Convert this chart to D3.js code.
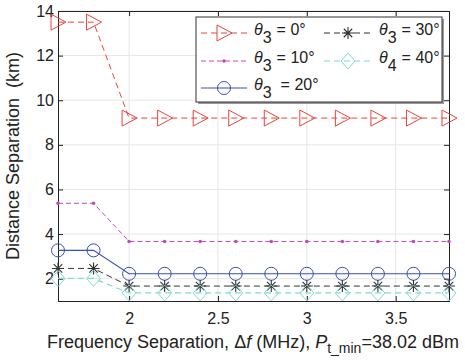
<!DOCTYPE html>
<html>
<head>
<meta charset="utf-8">
<script src="https://cdn.jsdelivr.net/npm/d3@7"></script>
<style>
  body { margin: 0; background: #fff; }
  text { font-family: "Liberation Sans", Arial, sans-serif; white-space: pre; }
</style>
</head>
<body>
<div id="chart"></div>
<script>
// data
const freq = [1.6, 1.8, 2.0, 2.2, 2.4, 2.6, 2.8, 3.0, 3.2, 3.4, 3.6, 3.8];
const theta0 = [13.5, 13.5, 9.2, 9.2, 9.2, 9.2, 9.2, 9.2, 9.2, 9.2, 9.2, 9.2];
const theta10 = [5.38, 5.38, 3.67, 3.67, 3.67, 3.67, 3.67, 3.67, 3.67, 3.67, 3.67, 3.67];
const theta20 = [3.27, 3.27, 2.22, 2.22, 2.22, 2.22, 2.22, 2.22, 2.22, 2.22, 2.22, 2.22];
const theta30 = [2.46, 2.46, 1.67, 1.67, 1.67, 1.67, 1.67, 1.67, 1.67, 1.67, 1.67, 1.67];
const theta40 = [2.01, 2.01, 1.36, 1.36, 1.36, 1.36, 1.36, 1.36, 1.36, 1.36, 1.36, 1.36];
const xTicks = [2, 2.5, 3, 3.5];
const yTicks = [2, 4, 6, 8, 10, 12, 14];

const series = [
  { sub: "3", deg: "0°", vals: theta0, color: "#e8443a", dash: "6,4", marker: "tri", width: 1 },
  { sub: "3", deg: "10°", vals: theta10, color: "#c249c0", dash: "5,3", marker: "dot", width: 1 },
  { sub: "3", deg: "20°", vals: theta20, color: "#3a4fb2", dash: null, marker: "circle", width: 1.1 },
  { sub: "3", deg: "30°", vals: theta30, color: "#333333", dash: "6,4", marker: "star", width: 1 },
  { sub: "4", deg: "40°", vals: theta40, color: "#7fdcd2", dash: "6,4", marker: "diamond", width: 1.2 }
];

const W = 465, H = 361;
const m = { left: 58, right: 16, top: 11, bottom: 60 };

const svg = d3.select("#chart").append("svg")
  .attr("width", W).attr("height", H);

const x = d3.scaleLinear().domain([1.6, 3.8]).range([m.left, W - m.right]);
const y = d3.scaleLinear().domain([1, 14]).range([H - m.bottom, m.top]);

// grid
const grid = svg.append("g").attr("stroke", "#e6e6e6").attr("stroke-width", 1);
xTicks.forEach(t => grid.append("line")
  .attr("x1", x(t)).attr("x2", x(t)).attr("y1", y(1)).attr("y2", y(14)));
yTicks.forEach(t => grid.append("line")
  .attr("x1", x(1.6)).attr("x2", x(3.8)).attr("y1", y(t)).attr("y2", y(t)));

// axes, ticks pointing inward (MATLAB style)
const axFont = "16px";
svg.append("g").attr("transform", "translate(0," + y(1) + ")")
  .call(d3.axisBottom(x).tickValues(xTicks).tickSize(-5).tickPadding(12).tickFormat(d3.format("")))
  .call(g => g.selectAll("text").attr("font-size", axFont).attr("fill", "#222"));
svg.append("g").attr("transform", "translate(0," + y(14) + ")")
  .call(d3.axisTop(x).tickValues(xTicks).tickSize(-5).tickFormat(""));
svg.append("g").attr("transform", "translate(" + x(1.6) + ",0)")
  .call(d3.axisLeft(y).tickValues(yTicks).tickSize(-5).tickPadding(4))
  .call(g => g.selectAll("text").attr("font-size", axFont).attr("fill", "#222"));
svg.append("g").attr("transform", "translate(" + x(3.8) + ",0)")
  .call(d3.axisRight(y).tickValues(yTicks).tickSize(-5).tickFormat(""));
svg.selectAll(".domain").attr("stroke", "#222");
svg.selectAll(".tick line").attr("stroke", "#222");

// markers
function drawMarker(g, type, cx, cy, color) {
  if (type === "tri") {
    g.append("path").attr("d", `M${cx - 7},${cy - 8}L${cx + 8},${cy}L${cx - 7},${cy + 8}Z`)
      .attr("fill", "none").attr("stroke", color).attr("stroke-width", 1);
  } else if (type === "dot") {
    g.append("circle").attr("cx", cx).attr("cy", cy).attr("r", 1.8).attr("fill", color);
  } else if (type === "circle") {
    g.append("circle").attr("cx", cx).attr("cy", cy).attr("r", 6.5)
      .attr("fill", "none").attr("stroke", color).attr("stroke-width", 1);
  } else if (type === "star") {
    const r = 6;
    const d = [0, 45, 90, 135].map(a => {
      const t = a * Math.PI / 180;
      return `M${cx - r * Math.cos(t)},${cy - r * Math.sin(t)}L${cx + r * Math.cos(t)},${cy + r * Math.sin(t)}`;
    }).join("");
    g.append("path").attr("d", d).attr("stroke", color).attr("stroke-width", 1.1);
  } else if (type === "diamond") {
    g.append("path").attr("d", `M${cx},${cy - 8}L${cx + 7},${cy}L${cx},${cy + 8}L${cx - 7},${cy}Z`)
      .attr("fill", "none").attr("stroke", color).attr("stroke-width", 1);
  }
}

const line = d3.line().x(d => x(d[0])).y(d => y(d[1]));
const plot = svg.append("g");
series.forEach(s => {
  const pts = freq.map((f, i) => [f, s.vals[i]]);
  plot.append("path").datum(pts).attr("d", line)
    .attr("fill", "none").attr("stroke", s.color).attr("stroke-width", s.width)
    .attr("stroke-dasharray", s.dash);
  pts.forEach(p => drawMarker(plot, s.marker, x(p[0]), y(p[1]), s.color));
});

// legend
const lg = svg.append("g");
const lx = 196, ly = 17, lw = 246, lh = 85;
lg.append("rect").attr("x", lx + 2).attr("y", ly + 2).attr("width", lw).attr("height", lh).attr("fill", "#999");
lg.append("rect").attr("x", lx).attr("y", ly).attr("width", lw).attr("height", lh)
  .attr("fill", "#fff").attr("stroke", "#333").attr("stroke-width", 1);
const rowsY = [33, 61, 88];
series.forEach((s, i) => {
  const col = i < 3 ? 0 : 1;
  const row = i < 3 ? i : i - 3;
  const x0 = col === 0 ? 201 : 324;
  const x1 = col === 0 ? 247 : 372;
  const cy = rowsY[row];
  lg.append("line").attr("x1", x0).attr("x2", x1).attr("y1", cy).attr("y2", cy)
    .attr("stroke", s.color).attr("stroke-width", s.width).attr("stroke-dasharray", s.dash);
  drawMarker(lg, s.marker, (x0 + x1) / 2, cy, s.color);
  const t = lg.append("text").attr("x", x1 + 7).attr("y", cy + 2).attr("font-size", "16px").attr("fill", "#222");
  t.append("tspan").attr("font-style", "italic").text("θ");
  t.append("tspan").attr("dy", 8).text(s.sub);
  t.append("tspan").attr("dy", -8).attr("dx", i === 2 ? 9 : 5).text("= " + s.deg);
});

// axis labels
svg.append("text")
  .attr("transform", `translate(19,${(y(1) + y(14)) / 2}) rotate(-90)`)
  .attr("text-anchor", "middle").attr("font-size", "18px").attr("fill", "#222")
  .text("Distance Separation  (km)");

const xl = svg.append("text").attr("x", 253).attr("y", 348)
  .attr("text-anchor", "middle").attr("font-size", "18px").attr("fill", "#222");
xl.append("tspan").text("Frequency Separation, Δ");
xl.append("tspan").attr("font-style", "italic").text("f");
xl.append("tspan").text(" (MHz), ");
xl.append("tspan").attr("font-style", "italic").text("P");
xl.append("tspan").attr("dy", 5).attr("font-size", "14px").text("t_min");
xl.append("tspan").attr("dy", -5).text("=38.02 dBm");
</script>
</body>
</html>
